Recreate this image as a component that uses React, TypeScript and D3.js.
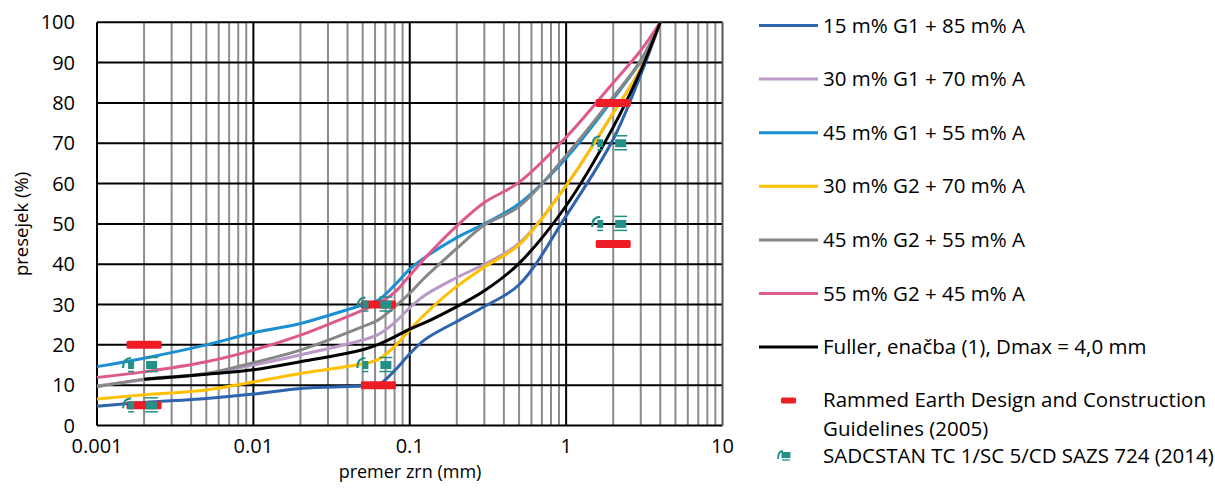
import React from "react";
import * as d3 from "d3";

const sizes = [0.001, 0.002, 0.005, 0.01, 0.02, 0.05, 0.063, 0.08, 0.1, 0.125, 0.2, 0.3, 0.5, 1, 2, 3, 4];

const g1_15 = [4.8, 5.7, 6.7, 7.8, 9.2, 9.8, 10.1, 13.6, 17.8, 21.3, 25.8, 29.5, 34.9, 52, 71, 87, 100];
const g1_30 = [9.8, 11.3, 12.8, 15.0, 17.5, 21.2, 22.6, 25.5, 29.2, 32.3, 36.7, 40.0, 45.2, 59.5, 77.5, 88.5, 100];
const g1_45 = [14.6, 16.7, 20.0, 23.0, 25.3, 29.9, 31.1, 34.8, 38.8, 41.7, 46.6, 50.0, 55.0, 66.3, 81.0, 90.5, 100];
const g2_30 = [6.6, 7.6, 8.8, 10.8, 12.9, 15.3, 16.4, 19.6, 23.7, 27.6, 34.5, 39.3, 44.8, 59.5, 77.5, 88.5, 100];
const g2_45 = [9.6, 11.5, 12.9, 15.6, 18.7, 24.5, 26.2, 29.4, 32.8, 36.7, 43.9, 49.7, 54.3, 67.0, 81.5, 90.5, 100];
const g2_55 = [11.9, 13.3, 15.8, 18.7, 22.4, 28.6, 30.3, 33.0, 37.2, 41.5, 49.5, 55.3, 60.3, 71.5, 85, 93, 100];
const fuller = [null, 11.5, 12.7, 13.8, 15.8, 18.8, 20.1, 22.0, 23.9, 25.5, 29.5, 33.4, 40.2, 54.5, 74, 88, 100];

const seriesNames = [
  "15 m% G1 + 85 m% A",
  "30 m% G1 + 70 m% A",
  "45 m% G1 + 55 m% A",
  "30 m% G2 + 70 m% A",
  "45 m% G2 + 55 m% A",
  "55 m% G2 + 45 m% A",
  "Fuller, enačba (1), Dmax = 4,0 mm",
];
const seriesValues = [g1_15, g1_30, g1_45, g2_30, g2_45, g2_55, fuller];
const seriesColors = ["#2E63AE", "#B99AC6", "#1A8FD2", "#FFC000", "#878787", "#DE5A8C", "#000000"];

const rammedX = [0.002, 0.002, 0.063, 0.063, 2, 2];
const rammedY = [5, 20, 10, 30, 45, 80];
const sadcX = [0.002, 0.002, 0.063, 0.063, 2, 2];
const sadcY = [5, 15, 15, 30, 50, 70];

const xTicks = [0.001, 0.01, 0.1, 1, 10];
const xTickLabels = ["0.001", "0.01", "0.1", "1", "10"];
const yTicks = [0, 10, 20, 30, 40, 50, 60, 70, 80, 90, 100];

const FONT = "'Open Sans', sans-serif";
const TEAL = "#21918A";
const RED = "#EE1C25";

function SadcGlyph({ cx, cy }: { cx: number; cy: number }) {
  return (
    <g>
      <path d={`M${cx - 21},${cy + 3} Q${cx - 21},${cy - 7} ${cx - 13},${cy - 7}`} fill="none" stroke={TEAL} strokeWidth={2.2} />
      <rect x={cx - 16} y={cy - 4} width={6} height={8} fill={TEAL} />
      <line x1={cx - 16} x2={cx - 10} y1={cy + 6.5} y2={cy + 6.5} stroke={TEAL} strokeWidth={1.5} />
      <rect x={cx + 2} y={cy - 4} width={11} height={8} fill={TEAL} />
      <line x1={cx + 1} x2={cx + 14} y1={cy - 7.5} y2={cy - 7.5} stroke={TEAL} strokeWidth={1.5} />
      <line x1={cx + 1} x2={cx + 14} y1={cy + 6.5} y2={cy + 6.5} stroke={TEAL} strokeWidth={1.5} />
    </g>
  );
}

export default function App() {
  const left = 97, right = 722.5, top = 22.3, bottom = 425.5;
  const x = d3.scaleLog().domain([0.001, 10]).range([left, right]);
  const y = d3.scaleLinear().domain([0, 100]).range([bottom, top]);

  const minor: number[] = [];
  for (let e = -3; e < 1; e++) {
    for (let m = 2; m <= 9; m++) minor.push(m * Math.pow(10, e));
  }

  const line = d3
    .line<[number, number]>()
    .x((d) => x(d[0]))
    .y((d) => y(d[1]))
    .curve(d3.curveCatmullRom.alpha(0.5));

  const legendX1 = 759, legendX2 = 818, legendTextX = 823;
  const legendY0 = 25.5, legendStep = 53.6;
  const LF = 20.5;

  return (
    <svg width={1215} height={489} style={{ position: "absolute", left: 0, top: 0, background: "#fff" }} fontFamily={FONT}>
      {minor.map((v, i) => (
        <line key={"m" + i} x1={x(v)} x2={x(v)} y1={top} y2={bottom} stroke="#8C8C8C" strokeWidth={2} />
      ))}
      {yTicks.map((v) => (
        <line key={"h" + v} x1={left} x2={right} y1={y(v)} y2={y(v)} stroke="#000" strokeWidth={2} />
      ))}
      {xTicks.map((v) => (
        <line key={"M" + v} x1={x(v)} x2={x(v)} y1={top} y2={bottom} stroke={v === 10 ? "#555" : "#000"} strokeWidth={2} />
      ))}

      {seriesValues.map((vals, si) => {
        const pts: [number, number][] = [];
        vals.forEach((v, i) => {
          if (v !== null && v !== undefined) pts.push([sizes[i], v as number]);
        });
        return <path key={"s" + si} d={line(pts) || ""} fill="none" stroke={seriesColors[si]} strokeWidth={3} strokeLinejoin="round" />;
      })}

      {rammedX.map((v, i) => (
        <rect key={"r" + i} x={x(v) - 17.5} y={y(rammedY[i]) - 4} width={35} height={8} rx={1.5} fill={RED} />
      ))}
      {sadcX.map((v, i) => (
        <SadcGlyph key={"t" + i} cx={x(v)} cy={y(sadcY[i])} />
      ))}

      {yTicks.map((v) => (
        <text key={"yl" + v} x={75} y={y(v)} dy="0.35em" textAnchor="end" fontSize={20}>
          {v}
        </text>
      ))}
      {xTicks.map((v, i) => (
        <text key={"xl" + v} x={x(v)} y={445.5} dy="0.35em" textAnchor="middle" fontSize={20}>
          {xTickLabels[i]}
        </text>
      ))}
      <text x={410} y={471.5} dy="0.35em" textAnchor="middle" fontSize={18}>
        premer zrn (mm)
      </text>
      <text transform={`translate(22,${(top + bottom) / 2}) rotate(-90)`} dy="0.35em" textAnchor="middle" fontSize={18.5}>
        presejek (%)
      </text>

      {seriesNames.map((n, i) => (
        <g key={"lg" + i}>
          <line x1={legendX1} x2={legendX2} y1={legendY0 + i * legendStep} y2={legendY0 + i * legendStep} stroke={seriesColors[i]} strokeWidth={3} />
          <text x={legendTextX} y={legendY0 + i * legendStep} dy="0.35em" fontSize={LF}>
            {n}
          </text>
        </g>
      ))}
      <rect x={781} y={397.5} width={15} height={6} rx={1.5} fill={RED} />
      <text x={legendTextX} y={400} dy="0.35em" fontSize={LF}>
        Rammed Earth Design and Construction
      </text>
      <text x={legendTextX} y={429} dy="0.35em" fontSize={LF}>
        Guidelines (2005)
      </text>
      <g>
        <path d="M778,459 Q778,451 783,451" fill="none" stroke={TEAL} strokeWidth={1.8} />
        <rect x={781.5} y={452} width={9} height={6} fill={TEAL} />
        <line x1={782} x2={790} y1={460} y2={460} stroke={TEAL} strokeWidth={1.3} />
      </g>
      <text x={legendTextX} y={455.5} dy="0.35em" fontSize={LF}>
        SADCSTAN TC 1/SC 5/CD SAZS 724 (2014)
      </text>
    </svg>
  );
}
